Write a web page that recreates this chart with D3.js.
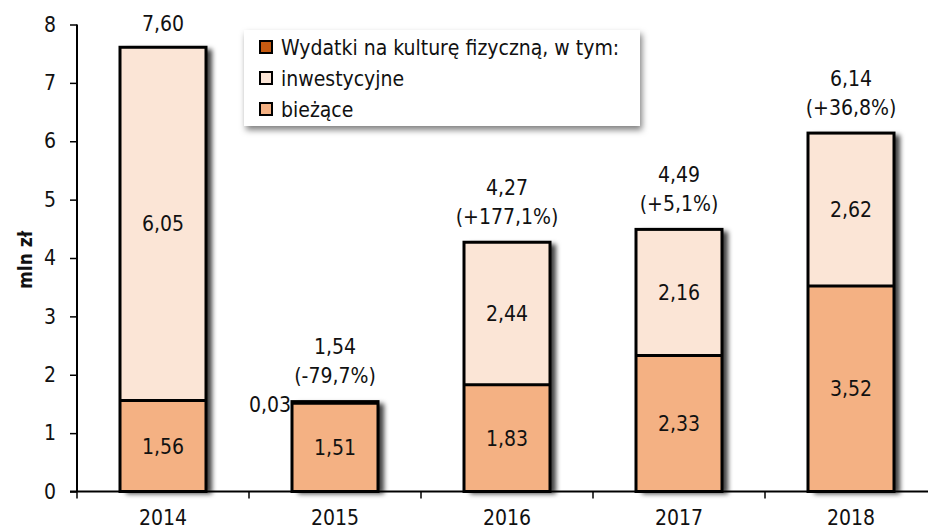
<!DOCTYPE html>
<html><head><meta charset="utf-8">
<script src="https://cdn.jsdelivr.net/npm/d3@7"></script>
<style>body{margin:0;background:#fff}svg{display:block}text{font-family:"DejaVu Sans Condensed","DejaVu Sans",sans-serif;fill:#111}</style>
</head><body><svg id="c" width="928" height="531"></svg>
<script>
const years = ["2014","2015","2016","2017","2018"];
const biezace = [1.56,1.51,1.83,2.33,3.52];
const inwestycyjne = [6.05,0.03,2.44,2.16,2.62];
const totals = [7.60,1.54,4.27,4.49,6.14];
const changes = [null,"(-79,7%)","(+177,1%)","(+5,1%)","(+36,8%)"];
const yTicks = [0,1,2,3,4,5,6,7,8];
const legendLabels = ["Wydatki na kulturę fizyczną, w tym:","inwestycyjne","bieżące"];
const colors = {total:"#C55A11", inw:"#FBE5D6", bie:"#F4B183"};
const FS = 21;

const fmt = v => v.toFixed(2).replace(".", ",");
const svg = d3.select("#c");
const defs = svg.append("defs");
const f = defs.append("filter").attr("id","sh").attr("x","-20%").attr("y","-20%").attr("width","150%").attr("height","150%");
f.append("feDropShadow").attr("dx",6).attr("dy",2).attr("stdDeviation",2.5).attr("flood-color","#000").attr("flood-opacity",0.75);
const f2 = defs.append("filter").attr("id","sh2").attr("x","-10%").attr("y","-20%").attr("width","120%").attr("height","150%");
f2.append("feDropShadow").attr("dx",2).attr("dy",4).attr("stdDeviation",3).attr("flood-color","#000").attr("flood-opacity",0.5);

const x = d3.scaleBand().domain(years).range([77, 937]).paddingInner(0.5).paddingOuter(0.25);
const y = d3.scaleLinear().domain([0,8]).range([491.5, 24.5]);

// bars
const g = svg.append("g");
years.forEach((yr,i)=>{
  const bx = x(yr), w = x.bandwidth();
  const grp = g.append("g").attr("filter","url(#sh)");
  grp.append("rect").attr("x",bx).attr("width",w).attr("y",y(biezace[i]+inwestycyjne[i])).attr("height",y(0)-y(biezace[i]+inwestycyjne[i])).attr("fill",colors.inw);
  grp.append("rect").attr("x",bx).attr("width",w).attr("y",y(biezace[i])).attr("height",y(0)-y(biezace[i])).attr("fill",colors.bie);
  g.append("rect").attr("x",bx).attr("width",w).attr("y",y(biezace[i]+inwestycyjne[i])).attr("height",y(0)-y(biezace[i]+inwestycyjne[i])).attr("fill","none").attr("stroke","#000").attr("stroke-width",3);
  g.append("line").attr("x1",bx).attr("x2",bx+w).attr("y1",y(biezace[i])).attr("y2",y(biezace[i])).attr("stroke","#000").attr("stroke-width",3);
});

// axes
const yAxis = svg.append("g").attr("transform","translate(77,0)")
  .call(d3.axisLeft(y).tickValues(yTicks).tickSize(7).tickPadding(14).tickFormat(d3.format("d")));
const xAxis = svg.append("g").attr("transform",`translate(0,${y(0)})`)
  .call(d3.axisBottom(x).tickSize(0).tickPadding(22));
const bounds = years.map(yr => x(yr) - x.step()*0.25).slice(1);
xAxis.selectAll(".bt").data(bounds).join("line").attr("x1",d=>d).attr("x2",d=>d).attr("y1",0).attr("y2",7).attr("stroke","#000").attr("stroke-width",1.5);
xAxis.append("line").attr("x1",77).attr("x2",77).attr("y1",0).attr("y2",7).attr("stroke","#000").attr("stroke-width",1.5);
[yAxis,xAxis].forEach(a=>{
  a.select(".domain").attr("stroke","#000").attr("stroke-width",2);
  a.selectAll(".tick line").attr("stroke","#000").attr("stroke-width",1.5);
  a.selectAll("text").attr("font-size",FS).attr("fill","#111").style("font-family",'"DejaVu Sans Condensed","DejaVu Sans",sans-serif');
});
xAxis.selectAll(".tick text").attr("dy","0.55em");
yAxis.select(".domain").attr("d","M0,24.5V491.5");
xAxis.select(".domain").attr("d","M70,0H928");

// axis title
svg.append("text").attr("transform","translate(25,260) rotate(-90)").attr("text-anchor","middle").attr("dy","0.36em")
  .attr("font-size",19).attr("font-weight","bold").text("mln zł");

// segment labels
years.forEach((yr,i)=>{
  const cx = x(yr)+x.bandwidth()/2;
  svg.append("text").attr("x",cx).attr("y",(y(0)+y(biezace[i]))/2).attr("dy","0.36em").attr("text-anchor","middle").attr("font-size",FS).text(fmt(biezace[i]));
  if (inwestycyjne[i] > 0.5) {
    svg.append("text").attr("x",cx).attr("y",(y(biezace[i])+y(biezace[i]+inwestycyjne[i]))/2).attr("dy","0.36em").attr("text-anchor","middle").attr("font-size",FS).text(fmt(inwestycyjne[i]));
  } else {
    svg.append("text").attr("x",x(yr)-1).attr("y",y(biezace[i]+inwestycyjne[i])+3).attr("dy","0.36em").attr("text-anchor","end").attr("font-size",FS).text(fmt(inwestycyjne[i]));
  }
  const top = y(totals[i]);
  if (changes[i]) {
    svg.append("text").attr("x",cx).attr("y",top-26).attr("dy","0.36em").attr("text-anchor","middle").attr("font-size",FS).text(changes[i]);
    svg.append("text").attr("x",cx).attr("y",top-55).attr("dy","0.36em").attr("text-anchor","middle").attr("font-size",FS).text(fmt(totals[i]));
  } else {
    svg.append("text").attr("x",cx).attr("y",top-24).attr("dy","0.36em").attr("text-anchor","middle").attr("font-size",FS).text(fmt(totals[i]));
  }
});

// legend
const lg = svg.append("g");
lg.append("rect").attr("x",244).attr("y",30).attr("width",396).attr("height",96).attr("fill","#fff").attr("filter","url(#sh2)");
const lc = [colors.total, colors.inw, colors.bie];
const ly = [47,78,109];
legendLabels.forEach((t,i)=>{
  lg.append("rect").attr("x",260).attr("y",ly[i]-6).attr("width",12).attr("height",12).attr("fill",lc[i]).attr("stroke","#000").attr("stroke-width",2);
  lg.append("text").attr("x",281).attr("y",ly[i]).attr("dy","0.36em").attr("font-size",FS).text(t);
});
</script></body></html>
